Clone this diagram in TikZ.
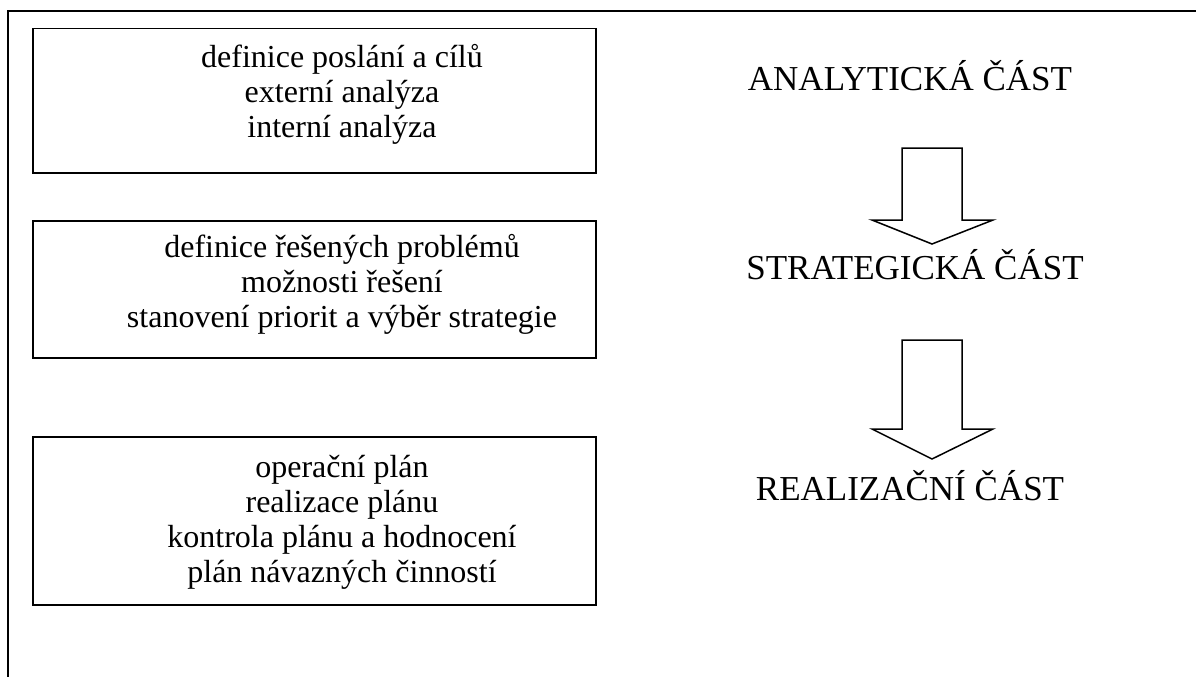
\documentclass[tikz,border=0pt]{standalone}
\usepackage{fontspec}
\setmainfont{Liberation Serif}
\begin{document}
\begin{tikzpicture}[x=1pt,y=-1pt,
  stagebox/.style={draw=black,line width=1.5pt,minimum width=563pt,anchor=north west,inner sep=0pt},
  boxtext/.style={align=center,font=\fontsize{32}{35.3}\selectfont,anchor=base,inner sep=0pt},
  partlabel/.style={font=\fontsize{35}{38}\selectfont,anchor=base,inner sep=0pt},
  bigarrow/.style={draw=black,line width=1.5pt,fill=white,line join=miter}]
\useasboundingbox (0,0) rectangle (1196,677);
% outer frame (top and left only)
\coordinate (frameTL) at (8,11);
\coordinate (frameTR) at (1196,11);
\coordinate (frameBL) at (8,677);
\draw[line width=1.4pt] (frameTR) -- (frameTL) -- (frameBL);
% boxes
\node[stagebox,minimum height=144pt] (box1) at (32,28) {};
\node[stagebox,minimum height=137pt] (box2) at (32,220) {};
\node[stagebox,minimum height=168pt] (box3) at (32,436) {};
% texts (anchored at the baseline of the last line)
\node[boxtext] (t1) at (342,137.6) {definice poslání a cílů\\externí analýza\\interní analýza};
\node[boxtext] (t2) at (342,327.6) {definice řešených problémů\\možnosti řešení\\stanovení priorit a výběr strategie};
\node[boxtext] (t3) at (342,582.9) {operační plán\\realizace plánu\\kontrola plánu a hodnocení\\plán návazných činností};
% part labels
\node[partlabel] (p1) at (910,90) {ANALYTICKÁ ČÁST};
\node[partlabel] (p2) at (915,279) {STRATEGICKÁ ČÁST};
\node[partlabel] (p3) at (910,500) {REALIZAČNÍ ČÁST};
% arrows
\draw[bigarrow] (902,148) -- (962,148) -- (962,220) -- (993,220) -- (932,244) -- (872,220) -- (902,220) -- cycle;
\draw[bigarrow] (902,340) -- (962,340) -- (962,429) -- (993,429) -- (932,459) -- (872,429) -- (902,429) -- cycle;
\end{tikzpicture}
\end{document}
